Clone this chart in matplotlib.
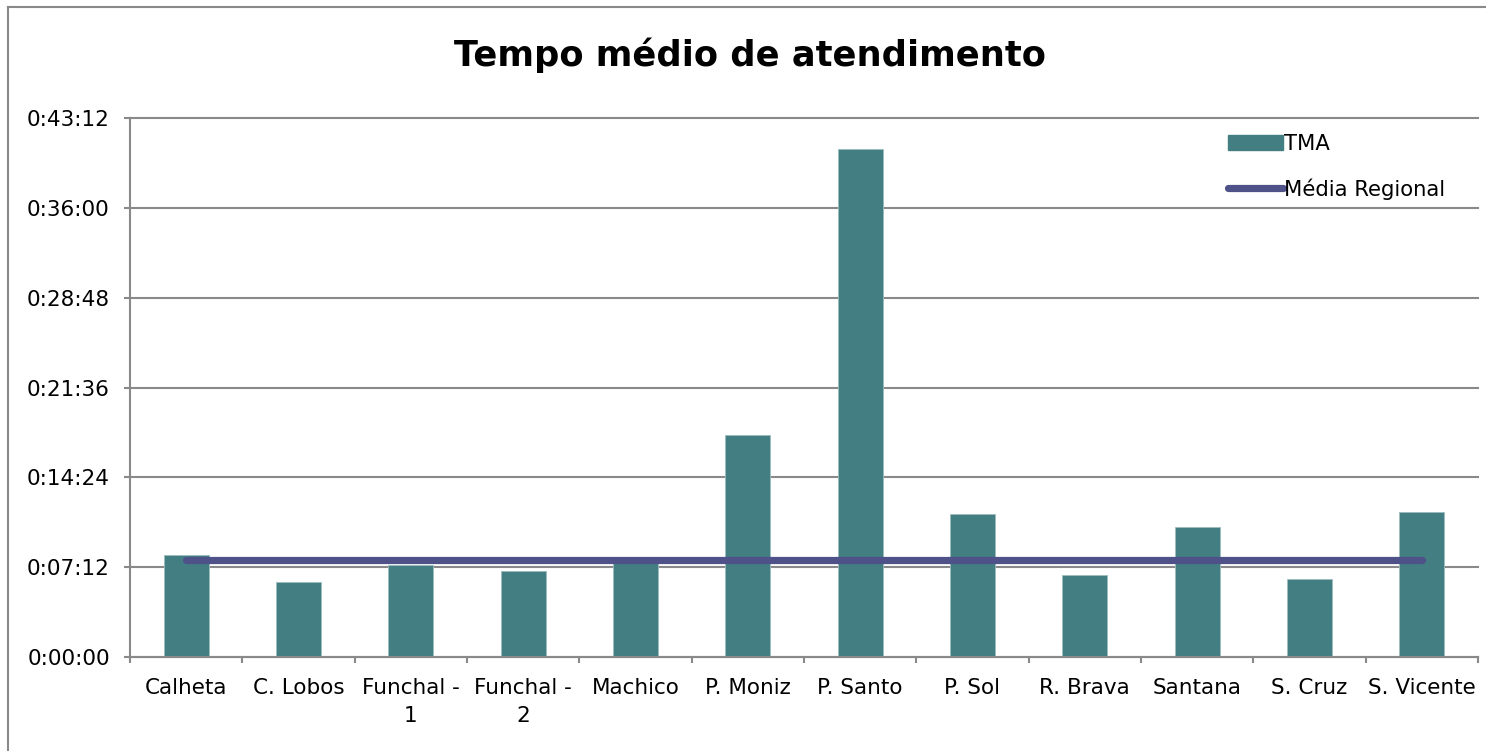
import matplotlib.pyplot as plt
from matplotlib.ticker import FuncFormatter, MultipleLocator
from matplotlib.lines import Line2D
import numpy as np

# data (seconds)
categories = ['Calheta', 'C. Lobos', 'Funchal -\n1', 'Funchal -\n2', 'Machico', 'P. Moniz',
              'P. Santo', 'P. Sol', 'R. Brava', 'Santana', 'S. Cruz', 'S. Vicente']
tma = [489, 362, 444, 415, 458, 1068, 2445, 687, 396, 626, 374, 697]
media_regional = 468
y_max = 2592
y_step = 432

bar_color = '#437E83'
line_color = '#4F5189'
grid_color = '#898989'

def hms(x, pos):
    x = int(round(x))
    return '%d:%02d:%02d' % (x // 3600, (x % 3600) // 60, x % 60)

fig = plt.figure(figsize=(14.86, 7.51), dpi=100)
ax = fig.add_axes([130/1486, 1 - 657/751, (1478-130)/1486, (657-118)/751])

x = np.arange(len(categories))
ax.bar(x, tma, width=0.4, color=bar_color, edgecolor='#9cbcbe', linewidth=0.6,
       zorder=2, label='TMA')
ax.plot(x, [media_regional]*len(x), color=line_color, linewidth=5.2,
        solid_capstyle='round', zorder=3, label='Média Regional')

ax.set_xlim(-0.5, len(categories) - 0.5)
ax.set_ylim(0, y_max)
ax.yaxis.set_major_locator(MultipleLocator(y_step))
ax.yaxis.set_major_formatter(FuncFormatter(hms))
ax.grid(axis='y', color=grid_color, linewidth=1.5, zorder=0)
for gl in ax.get_ygridlines():
    gl.set_clip_on(False)
ax.set_axisbelow(True)

ax.set_xticks(x)
ax.set_xticklabels(categories, fontsize=15.5, linespacing=1.5)
ax.set_xticks(np.arange(-0.5, len(categories)), minor=True)
ax.tick_params(axis='x', which='major', length=0, pad=15)
ax.tick_params(axis='x', which='minor', length=4.5, width=1.5, color=grid_color)
ax.tick_params(axis='y', length=4, width=1.5, color=grid_color, labelsize=15.5, pad=10.5)

for s in ['top', 'right']:
    ax.spines[s].set_visible(False)
for s in ['left', 'bottom']:
    ax.spines[s].set_color(grid_color)
    ax.spines[s].set_linewidth(1.5)

fig.text(0.505, 1 - 55/751, 'Tempo médio de atendimento', ha='center', va='center',
         fontsize=25.4, fontweight='bold')

handles = [plt.Rectangle((0, 0), 1, 1, color=bar_color),
           Line2D([0], [0], color=line_color, linewidth=5.2, solid_capstyle='round')]
ax.legend(handles, ['TMA', 'Média Regional'], loc='upper left',
          bbox_to_anchor=((1209-130)/1348, 1 + 3/539), frameon=False,
          fontsize=15.2, handlelength=2.6, handleheight=0.75, handletextpad=0.05,
          labelspacing=1.15)

# outer chart border
fig.add_artist(Line2D([8/1486, 8/1486], [0, 1 - 7/751], color=grid_color, linewidth=1.5))
fig.add_artist(Line2D([8/1486, 1], [1 - 7/751, 1 - 7/751], color=grid_color, linewidth=1.5))

fig.savefig('out.png', dpi=100)
